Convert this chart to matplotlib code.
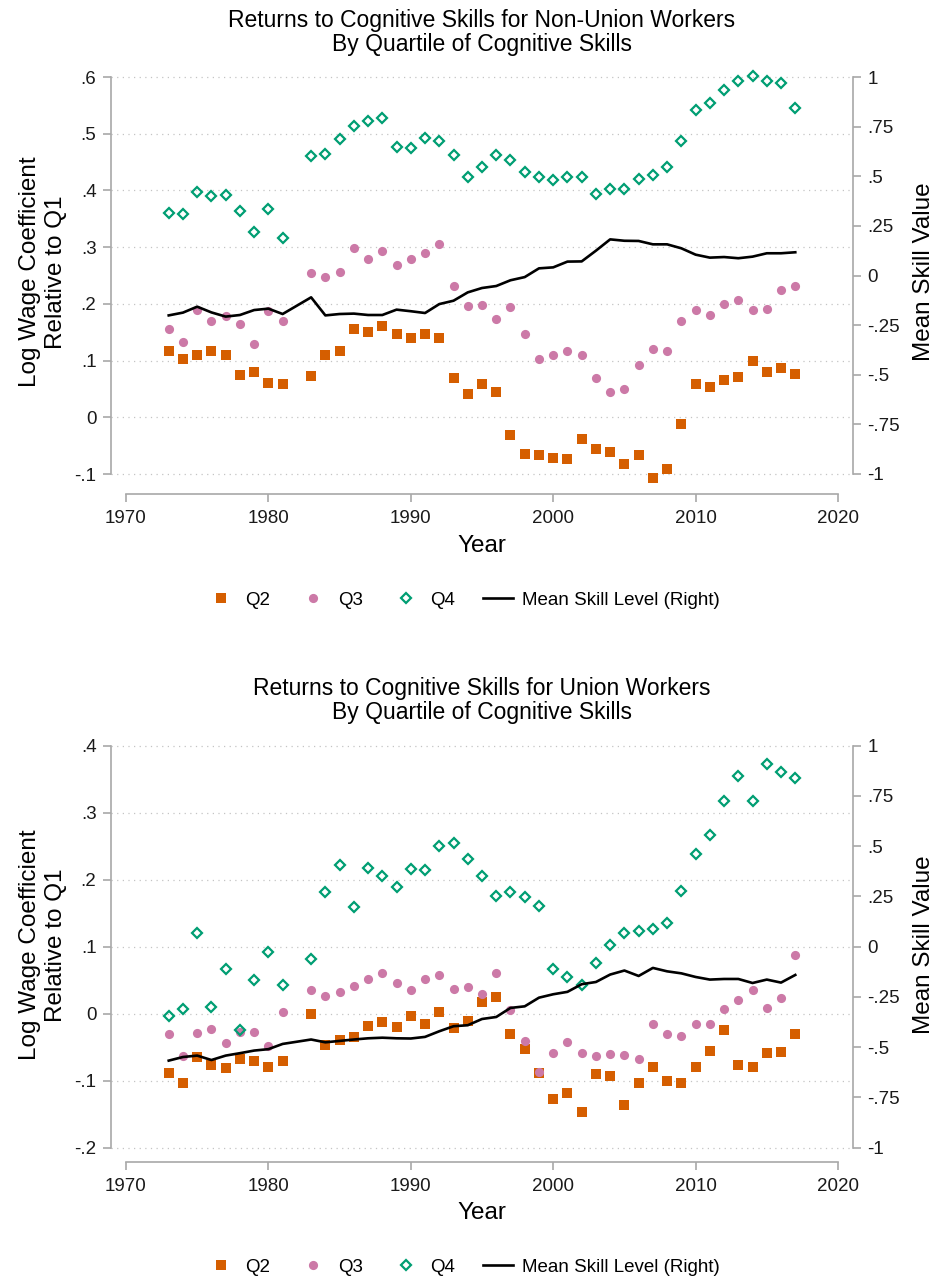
import numpy as np
import matplotlib
matplotlib.use("Agg")
import matplotlib.pyplot as plt
from matplotlib.lines import Line2D

plt.rcParams['font.family'] = ['Liberation Sans', 'DejaVu Sans']

# survey years (no 1982)
years = list(range(1973, 1982)) + list(range(1983, 2018))

# non-union workers
nu_q2 = [.116, .103, .110, .117, .110, .074, .079, .060, .058,
         .072, .110, .116, .156, .151, .161, .147, .139, .146, .140,
         .070, .041, .058, .045, -.031, -.064, -.066, -.072, -.074, -.038,
         -.056, -.062, -.083, -.066, -.107, -.092, -.012, .058, .053, .065,
         .071, .100, .080, .087, .076]
nu_q3 = [.156, .133, .190, .169, .178, .164, .130, .187, .170,
         .254, .247, .257, .298, .279, .293, .268, .279, .289, .306,
         .231, .197, .198, .174, .195, .147, .103, .109, .117, .109,
         .070, .045, .049, .093, .120, .116, .170, .190, .181, .200,
         .207, .189, .191, .225, .232]
nu_q4 = [.360, .358, .397, .391, .392, .364, .327, .367, .317,
         .460, .465, .491, .514, .523, .528, .476, .474, .492, .488,
         .463, .423, .442, .462, .454, .432, .423, .419, .424, .424,
         .393, .403, .403, .420, .427, .442, .488, .541, .554, .577,
         .593, .602, .593, .590, .546]
nu_mean = [-.201, -.187, -.157, -.186, -.207, -.199, -.174, -.167, -.194,
           -.110, -.201, -.194, -.192, -.199, -.199, -.172, -.180, -.189, -.144,
           -.127, -.085, -.063, -.053, -.024, -.008, .036, .041, .070, .071,
           .125, .182, .175, .174, .157, .157, .137, .105, .090, .093,
           .087, .095, .112, .112, .117]

# union workers
un_q2 = [-.089, -.103, -.065, -.077, -.081, -.067, -.070, -.079, -.071,
         -.001, -.047, -.040, -.035, -.019, -.012, -.020, -.004, -.016, .003,
         -.022, -.011, .018, .025, -.031, -.053, -.089, -.127, -.118, -.147,
         -.090, -.093, -.137, -.103, -.080, -.100, -.103, -.080, -.056, -.025,
         -.076, -.080, -.058, -.057, -.031]
un_q3 = [-.031, -.063, -.029, -.023, -.044, -.027, -.028, -.048, .003,
         .036, .027, .033, .041, .052, .060, .045, .036, .051, .057,
         .037, .039, .030, .060, .005, -.041, -.087, -.058, -.043, -.058,
         -.063, -.060, -.061, -.068, -.015, -.031, -.034, -.015, -.015, .007,
         .021, .036, .009, .024, .088]
un_q4 = [-.004, .007, .121, .010, .067, -.025, .050, .092, .043,
         .081, .182, .222, .159, .218, .206, .189, .216, .214, .250,
         .255, .231, .206, .176, .181, .174, .160, .066, .054, .042,
         .076, .102, .120, .123, .126, .135, .183, .238, .267, .317,
         .354, .317, .372, .361, .351]
un_mean = [-.567, -.549, -.542, -.564, -.542, -.530, -.517, -.510, -.484,
           -.462, -.476, -.469, -.462, -.456, -.453, -.456, -.457, -.449, -.421,
           -.396, -.391, -.360, -.350, -.305, -.297, -.254, -.237, -.225, -.187,
           -.176, -.139, -.119, -.146, -.106, -.123, -.133, -.151, -.164, -.161,
           -.161, -.181, -.164, -.179, -.141]

x_ticks = [1970, 1980, 1990, 2000, 2010, 2020]
nu_left_ticks = [-.1, 0, .1, .2, .3, .4, .5, .6]
un_left_ticks = [-.2, -.1, 0, .1, .2, .3, .4]
right_ticks = [-1, -.75, -.5, -.25, 0, .25, .5, .75, 1]

labels = ['Q2', 'Q3', 'Q4', 'Mean Skill Level (Right)']

C_Q2 = '#D55E00'
C_Q3 = '#CC79A7'
C_Q4 = '#009E73'
GRAY = '#a8a8a8'

W, H = 935, 1282


def stata_fmt(v):
    s = ('%.2f' % v).rstrip('0').rstrip('.')
    if s in ('-0', ''):
        s = '0'
    s = s.replace('-0.', '-.')
    if s.startswith('0.'):
        s = s[1:]
    return s


def panel(top_px, bot_px, lticks, bottom_off, q2, q3, q4, mean, title1, title2,
          title_y, ylab_y, xlab_y, leg_y):
    lo, hi = lticks[0], lticks[-1]
    # pixel rows of the outer gridlines
    g_top = top_px + 10
    g_bot = bot_px - 10
    ppu = (g_bot - g_top) / (hi - lo)
    ax = fig.add_axes([111 / W, 1 - bot_px / H, 742 / W, (bot_px - top_px) / H])
    ax.set_xlim(1970 - 15 / 14.24, 2020 + 15 / 14.24)
    ax.set_ylim(lo - 10 / ppu, hi + 10 / ppu)

    ax.plot(years, q2, 's', color=C_Q2, ms=6.6, mew=0, zorder=3)
    ax.plot(years, q3, 'o', color=C_Q3, ms=6.6, mew=0, zorder=3)
    ax.plot(years, q4, 'D', mfc='none', mec=C_Q4, ms=4.8, mew=1.6, zorder=3)

    ax.set_yticks(lticks)
    ax.set_yticklabels([stata_fmt(v) for v in lticks])
    ax.set_xticks(x_ticks)
    ax.set_xticklabels([str(v) for v in x_ticks])
    ax.yaxis.grid(True, linestyle=(0, (1, 3.5)), color='#c4c4c4', linewidth=0.9)
    ax.set_axisbelow(True)
    for s in ['top', 'right']:
        ax.spines[s].set_visible(False)
    ax.spines['left'].set_bounds(lo, hi)
    ax.spines['bottom'].set_bounds(1970, 2020)
    ax.spines['bottom'].set_position(('outward', bottom_off))
    for s in ['left', 'bottom']:
        ax.spines[s].set_color(GRAY)
        ax.spines[s].set_linewidth(1.2)
    ax.tick_params(axis='both', colors=GRAY, width=1.2, length=6, labelsize=13.5,
                   labelcolor='#1a1a1a')
    ax.tick_params(axis='y', pad=4.5)
    ax.tick_params(axis='x', pad=5.5)

    ax2 = ax.twinx()
    ax2.set_ylim(-1 - 10 / (ppu * (hi - lo) / 2), 1 + 10 / (ppu * (hi - lo) / 2))
    ax2.plot(years, mean, '-', color='black', lw=1.9, zorder=4)
    ax2.set_yticks(right_ticks)
    ax2.set_yticklabels([stata_fmt(v) for v in right_ticks])
    for s in ['top', 'left', 'bottom']:
        ax2.spines[s].set_visible(False)
    ax2.spines['right'].set_bounds(-1, 1)
    ax2.spines['right'].set_color(GRAY)
    ax2.spines['right'].set_linewidth(1.2)
    ax2.tick_params(axis='y', colors=GRAY, width=1.2, length=6, labelsize=13.5,
                    labelcolor='#1a1a1a', pad=4.5)

    fig.text(482 / W, 1 - title_y / H, title1, ha='center', va='center', fontsize=16.5)
    fig.text(482 / W, 1 - (title_y + 24) / H, title2, ha='center', va='center', fontsize=16.5)
    fig.text(43 / W, 1 - ylab_y / H, 'Log Wage Coefficient\nRelative to Q1', rotation=90,
             ha='center', va='center', multialignment='center', fontsize=17.5,
             linespacing=1.25)
    fig.text(924 / W, 1 - ylab_y / H, 'Mean Skill Value', rotation=90,
             ha='center', va='center', fontsize=17.5)
    fig.text(482 / W, 1 - xlab_y / H, 'Year', ha='center', va='center', fontsize=17.5)

    handles = [
        Line2D([], [], ls='none', marker='s', color=C_Q2, ms=6.6, mew=0),
        Line2D([], [], ls='none', marker='o', color=C_Q3, ms=6.6, mew=0),
        Line2D([], [], ls='none', marker='D', mfc='none', mec=C_Q4, ms=4.8, mew=1.6),
        Line2D([], [], color='black', lw=1.9),
    ]
    fig.legend(handles, labels, loc='center', bbox_to_anchor=(463 / W, 1 - leg_y / H),
               ncol=4, frameon=False, fontsize=13.5, handlelength=1.6,
               handletextpad=0.5, columnspacing=1.5)


fig = plt.figure(figsize=(W / 100, H / 100), dpi=100)

panel(67, 484, nu_left_ticks, 7.2, nu_q2, nu_q3, nu_q4, nu_mean,
      'Returns to Cognitive Skills for Non-Union Workers',
      'By Quartile of Cognitive Skills', 20, 272, 546, 600)
panel(735.5, 1157.7, un_left_ticks, 3.2, un_q2, un_q3, un_q4, un_mean,
      'Returns to Cognitive Skills for Union Workers',
      'By Quartile of Cognitive Skills', 688, 945, 1213, 1267)

fig.savefig('out.png', dpi=100, facecolor='white')
